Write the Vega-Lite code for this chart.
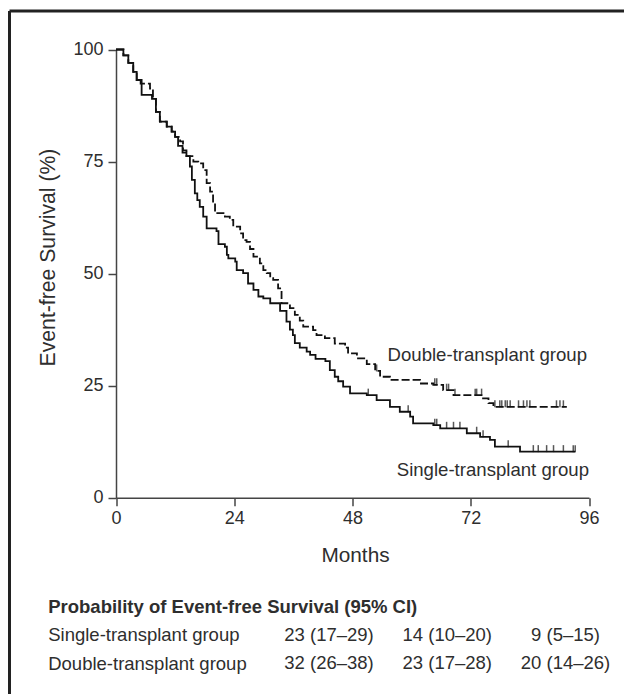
{
  "$schema": "https://vega.github.io/schema/vega-lite/v6.json",
  "autosize": "none",
  "width": 614.5,
  "height": 683,
  "padding": {"left": 9.5, "top": 11, "right": 0, "bottom": 0},
  "background": "white",
  "config": {
    "font": "Liberation Sans",
    "view": {"stroke": "#222222", "strokeWidth": 3, "strokeDash": [614.5, 1297.5, 683, 0]}
  },
  "datasets": {
    "curves": [
      {"group": "Double", "month": 0, "surv": 100}, {"group": "Double", "month": 1.5, "surv": 98.7}, {"group": "Double", "month": 2.5, "surv": 97}, {"group": "Double", "month": 3.5, "surv": 95}, {"group": "Double", "month": 4.2, "surv": 93.2}, {"group": "Double", "month": 5.0, "surv": 92.4}, {"group": "Double", "month": 6.9, "surv": 91.3}, {"group": "Double", "month": 7.5, "surv": 89}, {"group": "Double", "month": 8.1, "surv": 86.1}, {"group": "Double", "month": 8.9, "surv": 83.9}, {"group": "Double", "month": 10.3, "surv": 82.8}, {"group": "Double", "month": 11.3, "surv": 81.7}, {"group": "Double", "month": 12.0, "surv": 80.5}, {"group": "Double", "month": 13.0, "surv": 79.5}, {"group": "Double", "month": 13.6, "surv": 77.5}, {"group": "Double", "month": 14.3, "surv": 76.2}, {"group": "Double", "month": 15.7, "surv": 75}, {"group": "Double", "month": 16.7, "surv": 74.6}, {"group": "Double", "month": 17.7, "surv": 73.1}, {"group": "Double", "month": 18.4, "surv": 70.2}, {"group": "Double", "month": 19.1, "surv": 68.3}, {"group": "Double", "month": 19.7, "surv": 65.7}, {"group": "Double", "month": 20.1, "surv": 63.5}, {"group": "Double", "month": 22.1, "surv": 62.7}, {"group": "Double", "month": 23.1, "surv": 62}, {"group": "Double", "month": 23.8, "surv": 60.5}, {"group": "Double", "month": 25.2, "surv": 59}, {"group": "Double", "month": 25.8, "surv": 57.5}, {"group": "Double", "month": 26.5, "surv": 57.1}, {"group": "Double", "month": 27.2, "surv": 55.5}, {"group": "Double", "month": 27.9, "surv": 53.8}, {"group": "Double", "month": 29.2, "surv": 52.3}, {"group": "Double", "month": 29.9, "surv": 50.8}, {"group": "Double", "month": 30.6, "surv": 50.1}, {"group": "Double", "month": 31.3, "surv": 49}, {"group": "Double", "month": 31.9, "surv": 48.6}, {"group": "Double", "month": 32.9, "surv": 46.7}, {"group": "Double", "month": 33.6, "surv": 43.4}, {"group": "Double", "month": 35.3, "surv": 42.3}, {"group": "Double", "month": 36.3, "surv": 40.8}, {"group": "Double", "month": 37.3, "surv": 39.5}, {"group": "Double", "month": 38, "surv": 38.2}, {"group": "Double", "month": 40, "surv": 37.4}, {"group": "Double", "month": 40.7, "surv": 36.3}, {"group": "Double", "month": 42.4, "surv": 35.6}, {"group": "Double", "month": 44.4, "surv": 34.4}, {"group": "Double", "month": 46.5, "surv": 33.5}, {"group": "Double", "month": 47.1, "surv": 32.2}, {"group": "Double", "month": 48.9, "surv": 31.1}, {"group": "Double", "month": 50.9, "surv": 29.8}, {"group": "Double", "month": 52.6, "surv": 28.3}, {"group": "Double", "month": 53.6, "surv": 27}, {"group": "Double", "month": 55.6, "surv": 26.3}, {"group": "Double", "month": 61.7, "surv": 25.5}, {"group": "Double", "month": 64.4, "surv": 25.2}, {"group": "Double", "month": 66.4, "surv": 24}, {"group": "Double", "month": 68.5, "surv": 22.9}, {"group": "Double", "month": 74.5, "surv": 22.2}, {"group": "Double", "month": 75.6, "surv": 21.1}, {"group": "Double", "month": 76.6, "surv": 20.3}, {"group": "Double", "month": 91.5, "surv": 20.3},
      {"group": "Single", "month": 0, "surv": 100}, {"group": "Single", "month": 1.5, "surv": 98.7}, {"group": "Single", "month": 2.5, "surv": 97}, {"group": "Single", "month": 3.5, "surv": 95}, {"group": "Single", "month": 4.2, "surv": 93.2}, {"group": "Single", "month": 5.2, "surv": 89.9}, {"group": "Single", "month": 7.3, "surv": 89}, {"group": "Single", "month": 8.1, "surv": 86.1}, {"group": "Single", "month": 8.9, "surv": 83.9}, {"group": "Single", "month": 10.3, "surv": 82.8}, {"group": "Single", "month": 11.3, "surv": 81.7}, {"group": "Single", "month": 12, "surv": 80.5}, {"group": "Single", "month": 12.6, "surv": 78.5}, {"group": "Single", "month": 13.5, "surv": 77}, {"group": "Single", "month": 14.3, "surv": 76.2}, {"group": "Single", "month": 15, "surv": 73.9}, {"group": "Single", "month": 15.4, "surv": 70.9}, {"group": "Single", "month": 16, "surv": 67.9}, {"group": "Single", "month": 16.5, "surv": 66.4}, {"group": "Single", "month": 17, "surv": 64.9}, {"group": "Single", "month": 17.7, "surv": 62.7}, {"group": "Single", "month": 18.4, "surv": 60.1}, {"group": "Single", "month": 20.4, "surv": 59.5}, {"group": "Single", "month": 20.8, "surv": 56.6}, {"group": "Single", "month": 22.1, "surv": 56}, {"group": "Single", "month": 22.5, "surv": 54.2}, {"group": "Single", "month": 22.8, "surv": 53.4}, {"group": "Single", "month": 24.2, "surv": 52.7}, {"group": "Single", "month": 24.5, "surv": 50.8}, {"group": "Single", "month": 25.8, "surv": 50.1}, {"group": "Single", "month": 26.8, "surv": 47.8}, {"group": "Single", "month": 27.9, "surv": 46.4}, {"group": "Single", "month": 28.9, "surv": 44.9}, {"group": "Single", "month": 29.9, "surv": 44.5}, {"group": "Single", "month": 31.3, "surv": 43.4}, {"group": "Single", "month": 33.3, "surv": 41.7}, {"group": "Single", "month": 34.6, "surv": 39.3}, {"group": "Single", "month": 35.3, "surv": 37.5}, {"group": "Single", "month": 35.9, "surv": 36.3}, {"group": "Single", "month": 36.3, "surv": 34.5}, {"group": "Single", "month": 37.3, "surv": 33.5}, {"group": "Single", "month": 38.7, "surv": 32.6}, {"group": "Single", "month": 39.4, "surv": 31.9}, {"group": "Single", "month": 40.5, "surv": 31}, {"group": "Single", "month": 42.5, "surv": 30.5}, {"group": "Single", "month": 43.4, "surv": 28.5}, {"group": "Single", "month": 44.4, "surv": 27}, {"group": "Single", "month": 45.1, "surv": 26}, {"group": "Single", "month": 46.1, "surv": 24.8}, {"group": "Single", "month": 47.5, "surv": 23.3}, {"group": "Single", "month": 50.9, "surv": 22.9}, {"group": "Single", "month": 52.9, "surv": 21.8}, {"group": "Single", "month": 55.6, "surv": 20.3}, {"group": "Single", "month": 57.6, "surv": 19.2}, {"group": "Single", "month": 59.7, "surv": 18.1}, {"group": "Single", "month": 60.3, "surv": 16.6}, {"group": "Single", "month": 64.4, "surv": 16.2}, {"group": "Single", "month": 65.8, "surv": 15.5}, {"group": "Single", "month": 71.2, "surv": 14.4}, {"group": "Single", "month": 73.9, "surv": 13.6}, {"group": "Single", "month": 75.9, "surv": 12.9}, {"group": "Single", "month": 76.9, "surv": 11.4}, {"group": "Single", "month": 82, "surv": 10.3}, {"group": "Single", "month": 93.2, "surv": 10.3}
    ],
    "censors": [
      {"group": "Double", "month": 52.9, "surv": 28.3}, {"group": "Double", "month": 64.7, "surv": 25.2}, {"group": "Double", "month": 65.1, "surv": 25.2}, {"group": "Double", "month": 67.1, "surv": 24}, {"group": "Double", "month": 67.5, "surv": 24}, {"group": "Double", "month": 68.8, "surv": 22.9}, {"group": "Double", "month": 72.9, "surv": 22.9}, {"group": "Double", "month": 73.2, "surv": 22.9}, {"group": "Double", "month": 74.2, "surv": 22.9}, {"group": "Double", "month": 76.9, "surv": 20.3}, {"group": "Double", "month": 77.9, "surv": 20.3}, {"group": "Double", "month": 78.3, "surv": 20.3}, {"group": "Double", "month": 79, "surv": 20.3}, {"group": "Double", "month": 79.4, "surv": 20.3}, {"group": "Double", "month": 80, "surv": 20.3}, {"group": "Double", "month": 81.7, "surv": 20.3}, {"group": "Double", "month": 82.7, "surv": 20.3}, {"group": "Double", "month": 83.4, "surv": 20.3}, {"group": "Double", "month": 84, "surv": 20.3}, {"group": "Double", "month": 89.4, "surv": 20.3}, {"group": "Double", "month": 90.1, "surv": 20.3}, {"group": "Double", "month": 90.8, "surv": 20.3},
      {"group": "Single", "month": 51.2, "surv": 22.9}, {"group": "Single", "month": 59.3, "surv": 19.2}, {"group": "Single", "month": 64.7, "surv": 16.2}, {"group": "Single", "month": 65.1, "surv": 16.2}, {"group": "Single", "month": 67.1, "surv": 15.5}, {"group": "Single", "month": 68.5, "surv": 15.5}, {"group": "Single", "month": 69.8, "surv": 15.5}, {"group": "Single", "month": 73.2, "surv": 14.4}, {"group": "Single", "month": 74.5, "surv": 13.6}, {"group": "Single", "month": 79.6, "surv": 11.4}, {"group": "Single", "month": 84.7, "surv": 10.3}, {"group": "Single", "month": 85.7, "surv": 10.3}, {"group": "Single", "month": 87.4, "surv": 10.3}, {"group": "Single", "month": 88.8, "surv": 10.3}, {"group": "Single", "month": 90.8, "surv": 10.3}, {"group": "Single", "month": 92.8, "surv": 10.3}, {"group": "Single", "month": 93.2, "surv": 10.3}
    ],
    "labels": [
      {"label": "Double-transplant group", "month": 95.6, "surv": 31.9},
      {"label": "Single-transplant group", "month": 96, "surv": 6.2}
    ],
    "table": [
      {"group": "Single-transplant group", "month": 48, "value": "23 (17–29)"},
      {"group": "Single-transplant group", "month": 72, "value": "14 (10–20)"},
      {"group": "Single-transplant group", "month": 96, "value": "9 (5–15)"},
      {"group": "Double-transplant group", "month": 48, "value": "32 (26–38)"},
      {"group": "Double-transplant group", "month": 72, "value": "23 (17–28)"},
      {"group": "Double-transplant group", "month": 96, "value": "20 (14–26)"}
    ]
  },
  "layer": [
    {
      "layer": [
        {
          "data": {"name": "curves"},
          "mark": {"type": "line", "interpolate": "step-after", "strokeWidth": 1.8, "color": "#111111"},
          "encoding": {
            "x": {
              "field": "month", "type": "quantitative",
              "scale": {"domain": [0, 96], "range": [106.5, 579.5], "nice": false, "zero": false},
              "axis": {
                "values": [0, 24, 48, 72, 96], "offset": -196.2, "grid": false,
                "tickSize": 8, "tickWidth": 1.5, "tickColor": "#444444",
                "domainWidth": 1.5, "domainColor": "#444444",
                "labelFontSize": 18, "labelColor": "#2e2e2e", "labelPadding": 4, "labelFlush": false, "labelOverlap": false,
                "title": "Months", "titleFontSize": 20.8, "titleFontWeight": "normal", "titleColor": "#2e2e2e",
                "titleX": 345.5, "titleY": 57.2, "titleBaseline": "middle", "titleAlign": "center"
              }
            },
            "y": {
              "field": "surv", "type": "quantitative",
              "scale": {"domain": [0, 100], "range": [486.8, 38.5], "nice": false, "zero": false},
              "axis": {
                "orient": "left", "values": [0, 25, 50, 75, 100], "offset": -106.5, "grid": false,
                "tickSize": 8, "tickWidth": 1.5, "tickColor": "#444444",
                "domainWidth": 1.5, "domainColor": "#444444",
                "labelFontSize": 18, "labelColor": "#2e2e2e", "labelPadding": 5, "labelFlush": false, "labelOverlap": false,
                "title": "Event-free Survival (%)", "titleFontSize": 21.2, "titleFontWeight": "normal", "titleColor": "#2e2e2e",
                "titleX": -67.5, "titleY": 246, "titleBaseline": "middle", "titleAlign": "center", "titleAngle": -90
              }
            },
            "detail": {"field": "group"},
            "strokeDash": {
              "field": "group", "type": "nominal",
              "scale": {"domain": ["Single", "Double"], "range": [[1, 0], [8, 3]]},
              "legend": null
            }
          }
        },
        {
          "data": {"name": "censors"},
          "mark": {"type": "tick", "orient": "vertical", "size": 7, "thickness": 1.5, "color": "#111111", "yOffset": -3},
          "encoding": {
            "x": {"field": "month", "type": "quantitative"},
            "y": {"field": "surv", "type": "quantitative"}
          }
        },
        {
          "data": {"name": "labels"},
          "mark": {"type": "text", "align": "right", "baseline": "middle", "fontSize": 18.6, "color": "#2e2e2e"},
          "encoding": {
            "x": {"field": "month", "type": "quantitative"},
            "y": {"field": "surv", "type": "quantitative"},
            "text": {"field": "label"}
          }
        }
      ]
    },
    {
      "data": {"name": "table"},
      "mark": {"type": "text", "align": "center", "baseline": "middle", "dx": -23.5, "fontSize": 18.5, "color": "#2e2e2e"},
      "encoding": {
        "x": {"field": "month", "type": "quantitative"},
        "y": {
          "field": "group", "type": "nominal",
          "scale": {"type": "point", "domain": ["Probability of Event-free Survival (95% CI)", "Single-transplant group", "Double-transplant group"], "range": [595, 652], "padding": 0},
          "axis": {
            "orient": "left", "offset": -38.2, "domain": false, "ticks": false, "tickSize": 0, "grid": false,
            "labelAlign": "left", "labelBaseline": "middle", "labelPadding": 0, "labelLimit": 0,
            "labelFontSize": 18.5, "labelColor": "#2e2e2e",
            "labelFontWeight": {"condition": {"test": "datum.value === 'Probability of Event-free Survival (95% CI)'", "value": "bold"}, "value": "normal"},
            "title": null
          }
        },
        "text": {"field": "value"}
      }
    }
  ],
  "resolve": {"scale": {"y": "independent"}, "axis": {"y": "independent"}}
}
